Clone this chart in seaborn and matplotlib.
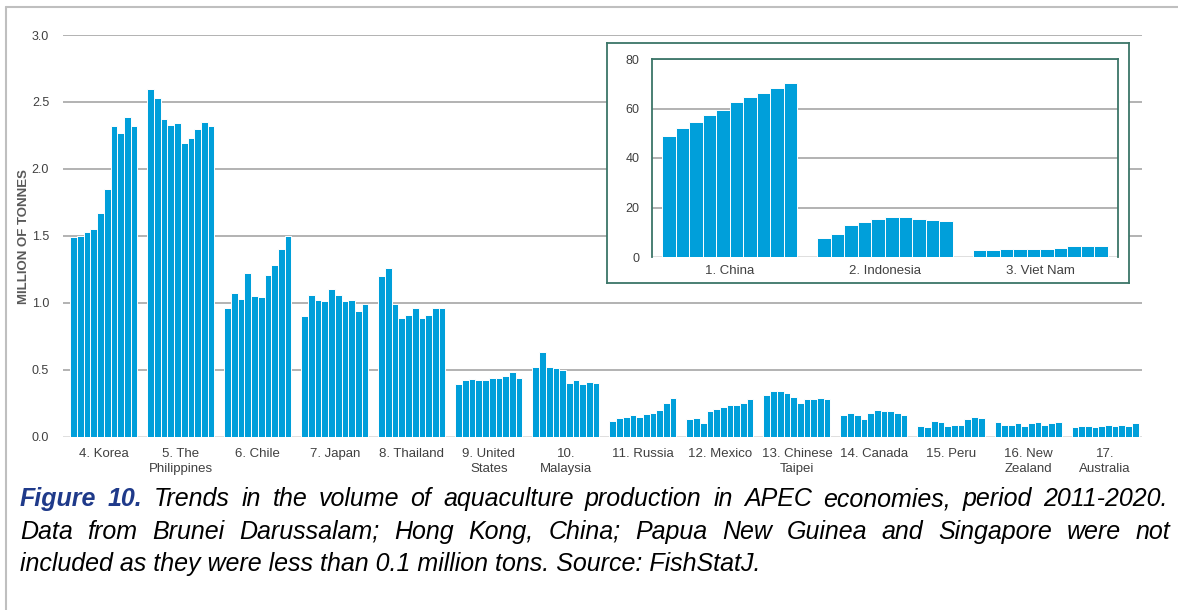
import numpy as np
import pandas as pd
import seaborn as sns
import matplotlib.pyplot as plt
from matplotlib.lines import Line2D

# --- data (million tonnes, 2011-2020) ---
years = [str(y) for y in range(2011, 2021)]

countries = ["4. Korea", "5. The\nPhilippines", "6. Chile", "7. Japan", "8. Thailand",
             "9. United\nStates", "10.\nMalaysia", "11. Russia", "12. Mexico",
             "13. Chinese\nTaipei", "14. Canada", "15. Peru", "16. New\nZealand",
             "17.\nAustralia"]
korea = [1.49, 1.50, 1.53, 1.55, 1.67, 1.85, 2.32, 2.27, 2.39, 2.32]
philippines = [2.60, 2.53, 2.37, 2.33, 2.34, 2.19, 2.23, 2.30, 2.35, 2.32]
chile = [0.96, 1.07, 1.03, 1.22, 1.05, 1.04, 1.21, 1.28, 1.40, 1.50]
japan = [0.90, 1.06, 1.02, 1.01, 1.10, 1.06, 1.01, 1.02, 0.94, 0.99]
thailand = [1.20, 1.26, 0.99, 0.89, 0.91, 0.96, 0.89, 0.91, 0.96, 0.96]
united_states = [0.39, 0.42, 0.43, 0.42, 0.42, 0.44, 0.44, 0.45, 0.48, 0.44]
malaysia = [0.52, 0.63, 0.52, 0.51, 0.50, 0.40, 0.42, 0.39, 0.41, 0.40]
russia = [0.12, 0.14, 0.15, 0.16, 0.15, 0.17, 0.18, 0.20, 0.25, 0.29]
mexico = [0.13, 0.14, 0.10, 0.19, 0.21, 0.22, 0.24, 0.24, 0.25, 0.28]
chinese_taipei = [0.31, 0.34, 0.34, 0.33, 0.30, 0.25, 0.28, 0.28, 0.29, 0.28]
canada = [0.16, 0.18, 0.16, 0.13, 0.18, 0.20, 0.19, 0.19, 0.18, 0.16]
peru = [0.08, 0.07, 0.12, 0.11, 0.08, 0.09, 0.09, 0.13, 0.15, 0.14]
new_zealand = [0.11, 0.09, 0.09, 0.10, 0.08, 0.10, 0.11, 0.09, 0.10, 0.11]
australia = [0.07, 0.08, 0.08, 0.07, 0.08, 0.09, 0.08, 0.09, 0.08, 0.10]

main_values = [korea, philippines, chile, japan, thailand, united_states, malaysia,
               russia, mexico, chinese_taipei, canada, peru, new_zealand, australia]

top_countries = ["1. China", "2. Indonesia", "3. Viet Nam"]
china = [49.0, 52.1, 54.6, 57.2, 59.4, 62.5, 64.5, 66.1, 68.1, 70.2]
indonesia = [7.8, 9.4, 13.1, 14.0, 15.5, 16.0, 16.0, 15.5, 15.1, 14.6]
viet_nam = [2.7, 2.7, 3.2, 3.2, 3.2, 3.2, 3.8, 4.3, 4.3, 4.3]
top_values = [china, indonesia, viet_nam]

BLUE = "#009FDA"
GRID = "#A6A6A6"
TEAL = "#3B7568"
TXT = "#404040"

sns.set_style("white")
plt.rcParams["font.family"] = ["Liberation Sans", "DejaVu Sans"]

main_df = pd.DataFrame({
    "country": np.repeat(countries, len(years)),
    "year": years * len(countries),
    "value": np.concatenate(main_values),
})
top_df = pd.DataFrame({
    "country": np.repeat(top_countries, len(years)),
    "year": years * len(top_countries),
    "value": np.concatenate(top_values),
})

W, H = 1178, 610
fig = plt.figure(figsize=(W / 100, H / 100), dpi=100)

# main chart
ax = fig.add_axes([63 / W, 1 - 436.7 / H, 1079 / W, 401.7 / H])
sns.barplot(data=main_df, x="country", y="value", hue="year", order=countries,
            palette=[BLUE] * len(years), saturation=1, width=0.87, edgecolor="white",
            linewidth=0.7, legend=False, ax=ax)
ax.set_ylim(0, 3)
ax.set_yticks(np.arange(0, 3.01, 0.5))
ax.set_yticklabels([f"{v:.1f}" for v in np.arange(0, 3.01, 0.5)])
ax.set_xlim(-0.53, 13.48)
ax.set_xlabel("")
ax.set_ylabel("")
ax.yaxis.grid(True, color=GRID, lw=1.2)
ax.set_axisbelow(True)
ax.get_ygridlines()[0].set_color("#D9D9D9")
for s in ax.spines.values():
    s.set_visible(False)
ax.tick_params(axis="y", length=0, pad=10, labelsize=9, labelcolor=TXT)
ax.tick_params(axis="x", length=0, pad=8, labelsize=9.5, labelcolor=TXT)
for lab in ax.get_xticklabels():
    lab.set_linespacing(1.3)

fig.text(24 / W, 1 - 237 / H, "MILLION OF TONNES", rotation=90, ha="center",
         va="center", fontsize=9.5, fontweight="bold", color="#595959")

# inset frame
frame = fig.add_axes([607 / W, 1 - 283 / H, 522 / W, 240 / H])
frame.set_xticks([])
frame.set_yticks([])
frame.set_facecolor("white")
for s in frame.spines.values():
    s.set_color(TEAL)
    s.set_linewidth(1.3)

# inset chart
ax2 = fig.add_axes([652 / W, 1 - 257 / H, 466 / W, 198 / H])
sns.barplot(data=top_df, x="country", y="value", hue="year", order=top_countries,
            palette=[BLUE] * len(years), saturation=1, width=0.87, edgecolor="white",
            linewidth=0.7, legend=False, ax=ax2)
ax2.set_ylim(0, 80)
ax2.set_yticks(range(0, 81, 20))
ax2.set_xlim(-0.5, 2.5)
ax2.set_xlabel("")
ax2.set_ylabel("")
ax2.yaxis.grid(True, color=GRID, lw=1.2)
ax2.set_axisbelow(True)
ax2.get_ygridlines()[0].set_color("#D9D9D9")
for side in ["left", "right", "top"]:
    ax2.spines[side].set_color(TEAL)
    ax2.spines[side].set_linewidth(1.3)
ax2.spines["bottom"].set_visible(False)
ax2.tick_params(axis="y", length=0, pad=9, labelsize=9, labelcolor=TXT)
ax2.tick_params(axis="x", length=0, pad=6, labelsize=9.5, labelcolor=TXT)

# outer border (top and left)
fig.add_artist(Line2D([6 / W, 1], [1 - 7 / H] * 2, transform=fig.transFigure,
                      color="#BFBFBF", lw=1.5))
fig.add_artist(Line2D([6 / W] * 2, [0, 1 - 7 / H], transform=fig.transFigure,
                      color="#BFBFBF", lw=1.5))

# caption
cap_font = ["Liberation Sans", "DejaVu Sans"]
cap_size = 18
renderer = fig.canvas.get_renderer()


def justified(segments, y_px, x0_px, x1_px):
    texts = [fig.text(0, 1 - y_px / H, w, family=cap_font, fontsize=cap_size,
                      style="italic", va="baseline", **kw) for w, kw in segments]
    widths = [t.get_window_extent(renderer).width for t in texts]
    gap = ((x1_px - x0_px) - sum(widths)) / (len(texts) - 1)
    x = x0_px
    for t, w in zip(texts, widths):
        t.set_x(x / W)
        x += w + gap


blue_kw = dict(color="#1F3A8A", fontweight="bold")
plain_kw = dict(color="black")
line1 = [("Figure", blue_kw), ("10.", blue_kw)] + [
    (w, plain_kw) for w in
    "Trends in the volume of aquaculture production in APEC economies, period 2011-2020.".split()]
line2 = [(w, plain_kw) for w in
         "Data from Brunei Darussalam; Hong Kong, China; Papua New Guinea and Singapore were not".split()]
justified(line1, 506, 20, 1168)
justified(line2, 539, 20, 1170)
fig.text(20 / W, 1 - 571 / H,
         "included as they were less than 0.1 million tons. Source: FishStatJ.",
         family=cap_font, fontsize=cap_size, style="italic", va="baseline", color="black")

fig.savefig("out.png", dpi=100)
